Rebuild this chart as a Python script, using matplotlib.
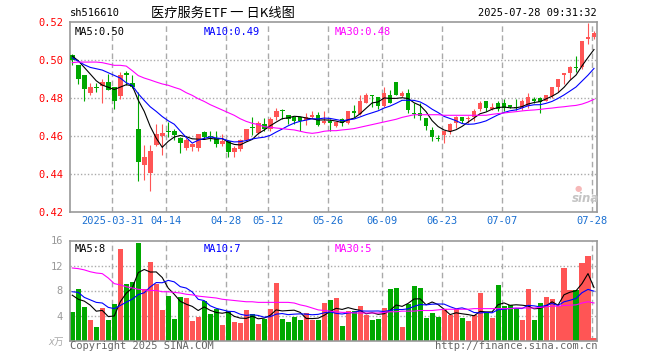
import numpy as np
import pandas as pd
import matplotlib
matplotlib.use('Agg')
import matplotlib.pyplot as plt

# daily candles, 2025-03-20 .. 2025-07-28 (trading days)
opens = [0.5028, 0.4975, 0.4919, 0.4828, 0.4858, 0.4863, 0.4884, 0.4856, 0.4811, 0.4933,
         0.4877, 0.4635, 0.4446, 0.4404, 0.4554, 0.4600, 0.4622, 0.4625, 0.4589, 0.4537,
         0.4544, 0.4537, 0.4621, 0.4595, 0.4589, 0.4558, 0.4575, 0.4516, 0.4530, 0.4579,
         0.4644, 0.4614, 0.4663, 0.4639, 0.4702, 0.4734, 0.4712, 0.4698, 0.4698, 0.4684,
         0.4702, 0.4712, 0.4670, 0.4681, 0.4653, 0.4688, 0.4667, 0.4733, 0.4716, 0.4775,
         0.4818, 0.4807, 0.4758, 0.4818, 0.4884, 0.4811, 0.4828, 0.4723, 0.4723, 0.4695,
         0.4632, 0.4584, 0.4605, 0.4625, 0.4670, 0.4702, 0.4688, 0.4702, 0.4744, 0.4786,
         0.4744, 0.4775, 0.4775, 0.4761, 0.4748, 0.4747, 0.4758, 0.4796, 0.4800, 0.4786,
         0.4810, 0.4856, 0.4919, 0.4930, 0.4959, 0.4961, 0.5109, 0.5119]
highs = [0.5030, 0.4975, 0.4921, 0.4877, 0.4877, 0.4898, 0.4926, 0.4860, 0.4937, 0.4940,
         0.4919, 0.4832, 0.4554, 0.4554, 0.4663, 0.4663, 0.4674, 0.4635, 0.4596, 0.4589,
         0.4565, 0.4611, 0.4625, 0.4625, 0.4625, 0.4611, 0.4579, 0.4547, 0.4582, 0.4639,
         0.4698, 0.4677, 0.4695, 0.4698, 0.4747, 0.4744, 0.4712, 0.4702, 0.4698, 0.4723,
         0.4730, 0.4726, 0.4733, 0.4688, 0.4677, 0.4695, 0.4733, 0.4761, 0.4818, 0.4825,
         0.4818, 0.4807, 0.4856, 0.4842, 0.4884, 0.4835, 0.4846, 0.4775, 0.4775, 0.4695,
         0.4649, 0.4604, 0.4628, 0.4670, 0.4705, 0.4702, 0.4705, 0.4744, 0.4786, 0.4786,
         0.4772, 0.4786, 0.4796, 0.4761, 0.4796, 0.4793, 0.4828, 0.4807, 0.4807, 0.4818,
         0.4856, 0.4898, 0.4930, 0.4968, 0.5021, 0.5098, 0.5193, 0.5151]
lows = [0.4975, 0.4874, 0.4782, 0.4814, 0.4830, 0.4772, 0.4840, 0.4740, 0.4793, 0.4867,
        0.4853, 0.4365, 0.4368, 0.4309, 0.4547, 0.4498, 0.4593, 0.4579, 0.4509, 0.4526,
        0.4519, 0.4519, 0.4582, 0.4575, 0.4540, 0.4547, 0.4488, 0.4488, 0.4523, 0.4575,
        0.4607, 0.4610, 0.4625, 0.4625, 0.4684, 0.4688, 0.4663, 0.4663, 0.4628, 0.4656,
        0.4695, 0.4653, 0.4663, 0.4628, 0.4649, 0.4653, 0.4663, 0.4702, 0.4712, 0.4772,
        0.4751, 0.4740, 0.4754, 0.4772, 0.4814, 0.4807, 0.4719, 0.4695, 0.4684, 0.4632,
        0.4572, 0.4572, 0.4561, 0.4611, 0.4642, 0.4670, 0.4670, 0.4681, 0.4730, 0.4730,
        0.4737, 0.4730, 0.4730, 0.4747, 0.4737, 0.4737, 0.4747, 0.4772, 0.4719, 0.4782,
        0.4800, 0.4832, 0.4874, 0.4902, 0.4937, 0.4954, 0.5084, 0.5112]
closes = [0.4998, 0.4898, 0.4846, 0.4856, 0.4855, 0.4884, 0.4842, 0.4786, 0.4919, 0.4919,
          0.4856, 0.4463, 0.4491, 0.4523, 0.4611, 0.4614, 0.4620, 0.4604, 0.4565, 0.4579,
          0.4558, 0.4611, 0.4596, 0.4593, 0.4558, 0.4575, 0.4516, 0.4537, 0.4579, 0.4635,
          0.4642, 0.4667, 0.4635, 0.4688, 0.4733, 0.4733, 0.4688, 0.4677, 0.4677, 0.4698,
          0.4712, 0.4656, 0.4681, 0.4670, 0.4674, 0.4670, 0.4733, 0.4723, 0.4786, 0.4818,
          0.4811, 0.4758, 0.4828, 0.4775, 0.4818, 0.4828, 0.4737, 0.4716, 0.4705, 0.4653,
          0.4593, 0.4582, 0.4625, 0.4663, 0.4702, 0.4681, 0.4695, 0.4733, 0.4775, 0.4747,
          0.4754, 0.4740, 0.4747, 0.4754, 0.4747, 0.4786, 0.4807, 0.4786, 0.4779, 0.4818,
          0.4856, 0.4898, 0.4930, 0.4961, 0.4958, 0.5098, 0.5119, 0.5140]

# volume in 10k lots
vols = [4.53, 8.21, 5.33, 3.25, 2.13, 5.17, 3.25, 5.81, 14.6, 9.01,
        9.33, 15.57, 8.32, 12.53, 9.12, 4.85, 7.09, 3.41, 6.93, 6.77,
        3.09, 3.79, 6.29, 4.21, 5.07, 2.45, 4.69, 2.93, 2.77, 4.85,
        4.21, 2.61, 3.47, 5.01, 9.17, 3.41, 2.93, 3.73, 3.25, 4.37,
        3.25, 3.25, 5.97, 6.45, 6.83, 2.35, 4.69, 4.69, 5.55, 4.05,
        3.25, 3.41, 5.17, 8.21, 8.37, 2.13, 5.81, 8.69, 8.37, 3.57,
        4.37, 3.73, 5.01, 4.05, 5.01, 3.57, 3.09, 4.05, 7.57, 4.59,
        3.57, 8.85, 5.49, 5.65, 5.01, 3.25, 8.21, 3.25, 5.97, 6.93,
        6.61, 5.49, 11.57, 8.05, 8.05, 12.37, 13.49, 0.37]

# moving-average values before the window is full
ma5_head = [0.5021, 0.4996, 0.4961, 0.4926]
ma10_head = [0.5011, 0.4993, 0.4975, 0.4961, 0.4954, 0.4947, 0.4933, 0.4919, 0.4905]
ma30 = [0.4986, 0.4989, 0.4989, 0.4989, 0.4989, 0.4986, 0.4979, 0.4972, 0.4972, 0.4968,
        0.4944, 0.4918, 0.4905, 0.4895, 0.4884, 0.4874, 0.4867, 0.4856, 0.4846, 0.4828,
        0.4814, 0.4796, 0.4782, 0.4765, 0.4751, 0.4737, 0.4723, 0.4709, 0.4691, 0.4677,
        0.4667, 0.4660, 0.4649, 0.4646, 0.4642, 0.4639, 0.4635, 0.4632, 0.4625, 0.4618,
        0.4614, 0.4618, 0.4625, 0.4628, 0.4628, 0.4632, 0.4635, 0.4639, 0.4646, 0.4653,
        0.4660, 0.4667, 0.4674, 0.4681, 0.4688, 0.4698, 0.4705, 0.4712, 0.4712, 0.4712,
        0.4712, 0.4712, 0.4709, 0.4709, 0.4709, 0.4709, 0.4709, 0.4709, 0.4709, 0.4709,
        0.4714, 0.4718, 0.4721, 0.4725, 0.4728, 0.4732, 0.4735, 0.4737, 0.4740, 0.4744,
        0.4747, 0.4751, 0.4754, 0.4758, 0.4761, 0.4768, 0.4779, 0.4793]
vma5_head = [7.25, 6.6, 6.3, 5.65]
vma10_head = [7.8, 7.7, 6.9, 6.5, 6.1, 6.0, 5.3, 5.1, 5.6]
vma30 = [11.6, 11.5, 11.3, 11.0, 10.8, 10.7, 10.0, 9.1, 8.9, 8.6,
         8.4, 8.2, 8.1, 8.0, 8.0, 7.8, 7.8, 7.7, 7.6, 7.4,
         7.3, 7.1, 7.0, 6.9, 6.8, 6.6, 6.5, 6.4, 6.3, 6.2,
         6.2, 6.1, 6.1, 6.1, 6.1, 6.1, 6.1, 6.0, 5.7, 5.5,
         5.2, 4.9, 4.8, 4.7, 4.6, 4.5, 4.5, 4.4, 4.4, 4.4,
         4.4, 4.4, 4.5, 4.6, 4.6, 4.7, 4.7, 4.7, 4.8, 4.8,
         4.8, 4.9, 5.0, 5.0, 5.0, 5.0, 5.0, 5.1, 5.1, 5.1,
         5.1, 5.1, 5.1, 5.1, 5.2, 5.2, 5.2, 5.2, 5.3, 5.4,
         5.5, 5.5, 5.6, 5.65, 5.7, 6.0, 6.2, 6.0]

tick_pos = [7, 16, 26, 33, 43, 52, 62, 72, 87]
tick_labels = ['2025-03-31', '04-14', '04-28', '05-12', '05-26', '06-09', '06-23', '07-07', '07-28']
price_ticks = [0.42, 0.44, 0.46, 0.48, 0.50, 0.52]
vol_ticks = [4, 8, 12, 16]


def moving_avg(values, n, head):
    ma = pd.Series(values).rolling(n).mean().to_numpy()
    ma[:len(head)] = head
    return ma


RED = '#ff5555'
GREEN = '#00a800'
GRIDC = '#aaaaaa'
MONO = 'DejaVu Sans Mono'
LW = 0.8

o = np.array(opens); h = np.array(highs); l = np.array(lows); c = np.array(closes)
x = np.arange(len(c))
up = c >= o
colors = np.where(up, RED, GREEN)

fig = plt.figure(figsize=(6.6, 3.6), dpi=100)
ax = fig.add_axes([70 / 660, 1 - 212 / 360, 527 / 660, 190 / 360])
axv = fig.add_axes([70 / 660, 1 - 340.5 / 360, 527 / 660, 100 / 360])

xlim = (-0.38, 87.5)
grid_x = [p - 0.3 for p in tick_pos]

for a in (ax, axv):
    a.set_xlim(*xlim)
    for s in a.spines.values():
        s.set_color('#999999')
        s.set_linewidth(1.2)
    for gx in grid_x:
        a.axvline(gx, color=GRIDC, lw=1, ls=(0, (4, 2.5)), zorder=0)
    a.tick_params(length=0)

# price panel
ax.set_ylim(0.42, 0.52)
for yv in price_ticks[1:-1]:
    ax.axhline(yv, color=GRIDC, lw=1, ls=(0, (1, 1.5)), zorder=0)
ax.vlines(x, l, h, colors=colors, lw=LW, zorder=2)
body = np.maximum(np.abs(c - o), 0.0005)
ax.bar(x, body, bottom=np.minimum(o, c), width=0.78, color=colors, linewidth=0, zorder=3)
ax.plot(x, moving_avg(closes, 5, ma5_head), color='black', lw=LW, zorder=4)
ax.plot(x, moving_avg(closes, 10, ma10_head), color='#0000ff', lw=LW, zorder=4)
ax.plot(x, ma30, color='#ff00ff', lw=LW, zorder=4)
ax.set_yticks(price_ticks)
ax.set_yticklabels(['%.2f' % t for t in price_ticks], color='#ff0000', family=MONO, fontsize=7.5)
ax.tick_params(axis='y', pad=5)
ax.set_xticks(grid_x)
ax.set_xticklabels(tick_labels, color='#1a6fd1', family=MONO, fontsize=7.5)
ax.tick_params(axis='x', pad=3)

ax.text(0.009, 0.975, 'MA5:0.50', transform=ax.transAxes, color='black', family=MONO,
        fontsize=7.5, va='top')
ax.text(0.254, 0.975, 'MA10:0.49', transform=ax.transAxes, color='#0000ff', family=MONO,
        fontsize=7.5, va='top')
ax.text(0.502, 0.975, 'MA30:0.48', transform=ax.transAxes, color='#ff00ff', family=MONO,
        fontsize=7.5, va='top')

# watermark
fig.text(599 / 660, 1 - 199 / 360, 'sina', color='#c4c4c4', fontsize=8.5,
         fontweight='bold', style='italic', ha='right', va='center', zorder=1)
fig.text(578 / 660, 1 - 189 / 360, '●', color='#f6b8b8', fontsize=6,
         ha='center', va='center', zorder=1)

# volume panel
axv.set_ylim(0, 16)
for yv in vol_ticks[:-1]:
    axv.axhline(yv, color=GRIDC, lw=1, ls=(0, (1, 1.5)), zorder=0)
axv.bar(x, vols, width=0.84, color=colors, linewidth=0, zorder=2)
axv.plot(x, moving_avg(vols, 5, vma5_head), color='black', lw=LW, zorder=4)
axv.plot(x, moving_avg(vols, 10, vma10_head), color='#0000ff', lw=LW, zorder=4)
axv.plot(x, vma30, color='#ff00ff', lw=LW, zorder=4)
axv.set_yticks(vol_ticks)
axv.set_yticklabels([str(t) for t in vol_ticks], color='#999999', family=MONO, fontsize=7.5)
axv.tick_params(axis='y', pad=5)
axv.set_xticks([])
axv.text(0.009, 0.96, 'MA5:8', transform=axv.transAxes, color='black', family=MONO,
         fontsize=7.5, va='top')
axv.text(0.254, 0.96, 'MA10:7', transform=axv.transAxes, color='#0000ff', family=MONO,
         fontsize=7.5, va='top')
axv.text(0.502, 0.96, 'MA30:5', transform=axv.transAxes, color='#ff00ff', family=MONO,
         fontsize=7.5, va='top')

# header and footer
fig.text(70 / 660, 1 - 13 / 360, 'sh516610', family=MONO, fontsize=7.5, va='center')
fig.text(151 / 660, 1 - 13 / 360, '医疗服务ETF 一 日K线图', family=['Noto Sans CJK SC', 'DejaVu Sans'],
         fontsize=9.5, va='center')
fig.text(597 / 660, 1 - 13 / 360, '2025-07-28 09:31:32', family=MONO, fontsize=7.5,
         va='center', ha='right')
fig.text(48 / 660, 1 - 342 / 360, 'x万', family=[MONO, 'Noto Sans CJK SC'], fontsize=7,
         color='#aaaaaa', va='center', style='italic')
fig.text(70 / 660, 1 - 346 / 360, 'Copyright 2025 SINA.COM', family=MONO, fontsize=7.5,
         color='#666666', va='center')
fig.text(597 / 660, 1 - 346 / 360, 'http://finance.sina.com.cn', family=MONO, fontsize=7.5,
         color='#666666', va='center', ha='right')

fig.savefig('out.png', dpi=100)
